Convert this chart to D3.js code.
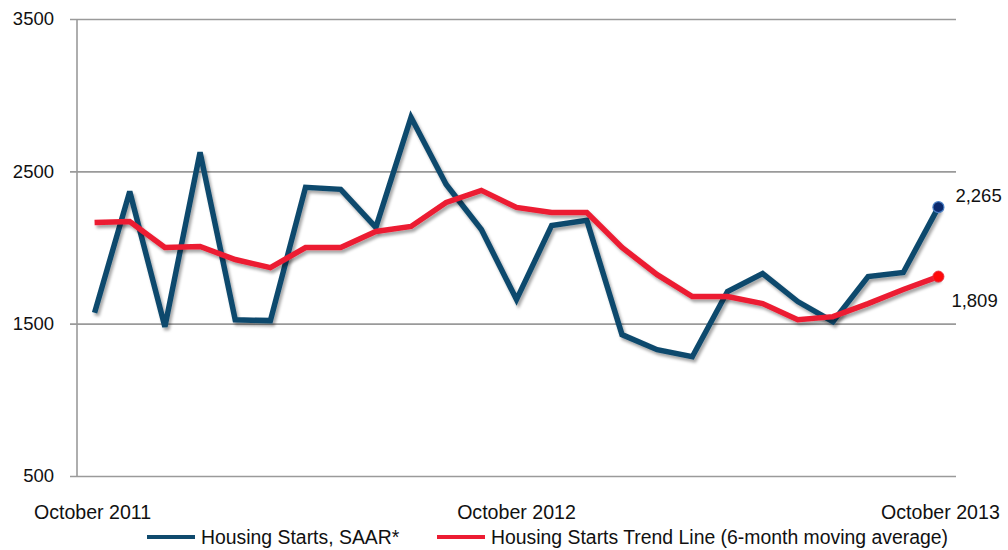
<!DOCTYPE html>
<html>
<head>
<meta charset="utf-8">
<script src="https://cdn.jsdelivr.net/npm/d3@7"></script>
<style>
  body { margin: 0; background: #fff; }
  svg { display: block; font-family: "Liberation Sans", Arial, sans-serif; }
  .tick text { fill: #111; }
</style>
</head>
<body>
<div id="chart"></div>
<script>
// monthly, October 2011 .. October 2013
const months = d3.range(25);
const xLabels = [
  { i: 0, text: "October 2011" },
  { i: 12, text: "October 2012" },
  { i: 24, text: "October 2013" }
];
const yTicks = [500, 1500, 2500, 3500];

const starts = [1572, 2368, 1480, 2625, 1526, 1520, 2395, 2382, 2132, 2855,
  2414, 2118, 1658, 2145, 2178, 1428, 1329, 1283, 1711, 1829,
  1645, 1513, 1809, 1836, 2265];
const trend = [2164, 2171, 2000, 2007, 1921, 1868, 2000, 2000, 2105, 2138,
  2296, 2375, 2263, 2230, 2230, 2000, 1822, 1678, 1678, 1632,
  1526, 1546, 1632, 1724, 1809];

const seriesNames = ["Housing Starts, SAAR*", "Housing Starts Trend Line (6-month moving average)"];
const colours = ["#0f4a6d", "#ec1c32"];

const width = 1008, height = 550;
const margin = { top: 19, right: 52, bottom: 74, left: 77 };

const svg = d3.select("#chart").append("svg")
  .attr("width", width)
  .attr("height", height);

const defs = svg.append("defs");
const shadow = defs.append("filter")
  .attr("id", "shadow")
  .attr("x", "-10%").attr("y", "-10%")
  .attr("width", "120%").attr("height", "130%");
shadow.append("feDropShadow")
  .attr("dx", 2).attr("dy", 3)
  .attr("stdDeviation", 1.8)
  .attr("flood-color", "#000")
  .attr("flood-opacity", 0.35);

const x = d3.scalePoint()
  .domain(months)
  .range([margin.left, width - margin.right])
  .padding(0.5);

const y = d3.scaleLinear()
  .domain([500, 3500])
  .range([height - margin.bottom, margin.top]);

// gridlines + y labels
const yAxis = d3.axisLeft(y)
  .tickValues(yTicks)
  .tickSize(-(width - margin.left - margin.right))
  .tickSizeOuter(0)
  .tickPadding(23)
  .tickFormat(d3.format("d"));

const gy = svg.append("g")
  .attr("transform", `translate(${margin.left},0)`)
  .call(yAxis);
gy.select(".domain").remove();
gy.selectAll(".tick line")
  .attr("x1", -7)
  .attr("stroke", "#9a9a9a")
  .attr("stroke-width", 1.6);
gy.selectAll(".tick text")
  .attr("font-size", 18.5)
  .attr("font-family", "Liberation Sans, Arial, sans-serif");

// vertical axis line
svg.append("line")
  .attr("x1", margin.left).attr("x2", margin.left)
  .attr("y1", y(3500)).attr("y2", y(500))
  .attr("stroke", "#9a9a9a")
  .attr("stroke-width", 1.6);

// x labels
svg.selectAll("text.xlab")
  .data(xLabels)
  .enter()
  .append("text")
  .attr("class", "xlab")
  .attr("x", d => x(d.i) + (d.i - 12) / 6)
  .attr("y", 519)
  .attr("text-anchor", "middle")
  .attr("font-size", 19.6)
  .attr("fill", "#111")
  .text(d => d.text);

const line = d3.line()
  .x((d, i) => x(i))
  .y(d => y(d));

[starts, trend].forEach((s, k) => {
  svg.append("path")
    .datum(s)
    .attr("fill", "none")
    .attr("stroke", colours[k])
    .attr("stroke-width", 5.5)
    .attr("stroke-linejoin", "miter")
    .attr("stroke-miterlimit", 3)
    .attr("filter", "url(#shadow)")
    .attr("d", line);
});

// end markers + value labels
const last = months.length - 1;
svg.append("circle")
  .attr("cx", x(last)).attr("cy", y(starts[last]))
  .attr("r", 5.5)
  .attr("fill", "#0b2a6e")
  .attr("stroke", "#4a7fc4")
  .attr("stroke-width", 1.2);
svg.append("circle")
  .attr("cx", x(last)).attr("cy", y(trend[last]))
  .attr("r", 5.5)
  .attr("fill", "#ff0a0a")
  .attr("stroke", "#e83040")
  .attr("stroke-width", 1);

svg.append("text")
  .attr("x", x(last) + 17)
  .attr("y", y(starts[last]) - 5)
  .attr("font-size", 18.5)
  .attr("fill", "#111")
  .text(d3.format(",")(starts[last]));
svg.append("text")
  .attr("x", x(last) + 13)
  .attr("y", y(trend[last]) + 30)
  .attr("font-size", 18.5)
  .attr("fill", "#111")
  .text(d3.format(",")(trend[last]));

// legend
const legendX = [147, 437];
const legend = svg.selectAll("g.legend")
  .data(seriesNames)
  .enter()
  .append("g")
  .attr("class", "legend")
  .attr("transform", (d, i) => `translate(${legendX[i]},537)`);
legend.append("line")
  .attr("x1", 0).attr("x2", 48)
  .attr("stroke", (d, i) => colours[i])
  .attr("stroke-width", 4);
legend.append("text")
  .attr("x", 54)
  .attr("y", 6.5)
  .attr("font-size", 19.4)
  .attr("fill", "#111")
  .text(d => d);
</script>
</body>
</html>
